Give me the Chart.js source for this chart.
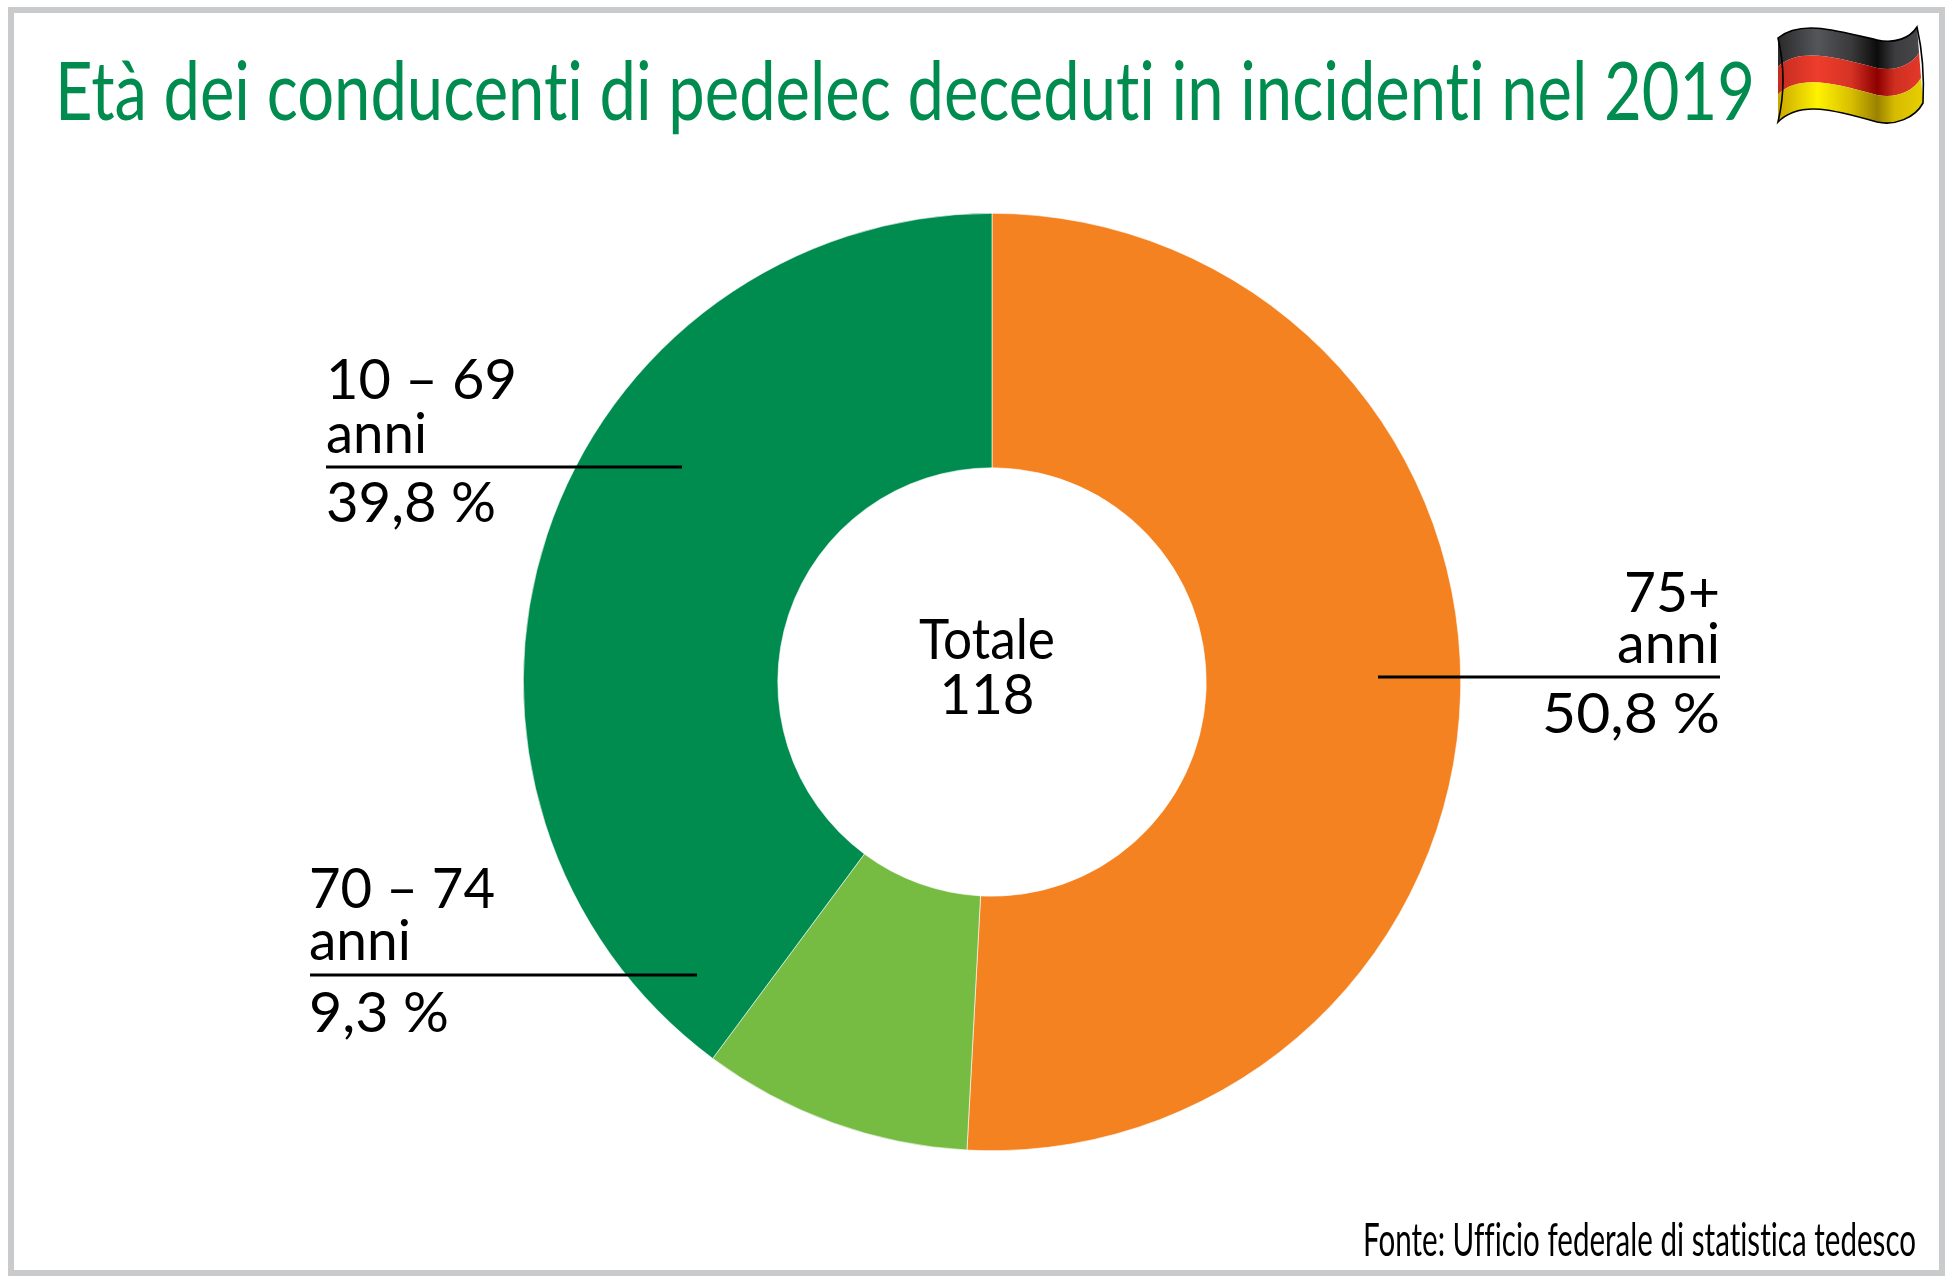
<!DOCTYPE html>
<html>
<head>
<meta charset="utf-8">
<title>Età dei conducenti di pedelec</title>
<script src="https://cdn.jsdelivr.net/npm/chart.js@4"></script>
<style>
html, body { margin: 0; padding: 0; background: #fff; }
canvas { display: block; }
</style>
</head>
<body>
<canvas id="ageChart" width="1955" height="1283"></canvas>
<script>
const categories = ['75+ anni', '70 – 74 anni', '10 – 69 anni'];
const shares = [50.8, 9.3, 39.8];
const sliceColors = ['#F58220', '#76BC43', '#008C4F'];
const titleText = 'Età dei conducenti di pedelec deceduti in incidenti nel 2019';
const sourceText = 'Fonte: Ufficio federale di statistica tedesco';

const labelFont = 'Lato';

// text is squeezed or stretched to the measured width of the original
function drawText(ctx, text, x, y, size, width, align, weight, color) {
    ctx.save();
    ctx.font = weight + ' ' + size + 'px ' + labelFont;
    ctx.letterSpacing = '0.01px'; // keeps Lato from joining "ti" and "ffi"
    ctx.fillStyle = color;
    ctx.textBaseline = 'alphabetic';
    ctx.textAlign = 'left';
    const sx = width / ctx.measureText(text).width;
    const left = align === 'right' ? x - width : align === 'center' ? x - width / 2 : x;
    ctx.translate(left, y);
    ctx.scale(sx, 1);
    ctx.fillText(text, 0, 0);
    ctx.restore();
}

function leader(ctx, x1, x2, y) {
    ctx.save();
    ctx.strokeStyle = '#000';
    ctx.lineWidth = 3;
    ctx.beginPath();
    ctx.moveTo(x1, y);
    ctx.lineTo(x2, y);
    ctx.stroke();
    ctx.restore();
}

function flagEdge(t) {
    // wave of the flag, t = 0 top edge, t = 1 bottom edge
    const l = (a, b) => a + (b - a) * t;
    return {
        start: [1778, l(38, 122)],
        c1: [1800, l(20, 100)],
        c2: [1835, l(30, 110)],
        mid: [1877, l(40, 122)],
        c3: [l(1895, 1895), l(44, 126)],
        c4: [l(1910, 1915), l(38, 118)],
        end: [l(1917, 1923), l(27, 103)]
    };
}

function drawFlag(ctx) {
    const bands = [
        [0, 0.34, ['#2a2a2a', '#55565a', '#3a3a3c', '#0c0c0c', '#3c3c3e', '#4a4a4c']],
        [0.34, 0.67, ['#c42c20', '#ee3d2c', '#d63324', '#8d0000', '#cf2f20', '#e53a2a']],
        [0.67, 1, ['#c9a800', '#fff200', '#d8bf00', '#9a8200', '#d6bb00', '#e8d000']]
    ];
    const trace = (e, backward) => {
        if (!backward) {
            ctx.bezierCurveTo(...e.c1, ...e.c2, ...e.mid);
            ctx.bezierCurveTo(...e.c3, ...e.c4, ...e.end);
        } else {
            ctx.bezierCurveTo(...e.c4, ...e.c3, ...e.mid);
            ctx.bezierCurveTo(...e.c2, ...e.c1, ...e.start);
        }
    };
    ctx.save();
    for (const [t0, t1, stops] of bands) {
        const a = flagEdge(t0), b = flagEdge(t1);
        const grad = ctx.createLinearGradient(1778, 0, 1924, 0);
        [0, 0.27, 0.5, 0.68, 0.8, 1].forEach((p, i) => grad.addColorStop(p, stops[i]));
        ctx.fillStyle = grad;
        ctx.beginPath();
        ctx.moveTo(...a.start);
        trace(a, false);
        ctx.lineTo(...b.end);
        trace(b, true);
        ctx.closePath();
        ctx.fill();
    }
    const top = flagEdge(0), bottom = flagEdge(1);
    ctx.strokeStyle = '#000';
    ctx.lineWidth = 1.6;
    ctx.beginPath();
    ctx.moveTo(...top.start);
    trace(top, false);
    ctx.quadraticCurveTo(1925, 62, ...bottom.end);
    trace(bottom, true);
    ctx.quadraticCurveTo(1788, 80, ...top.start);
    ctx.closePath();
    ctx.stroke();
    ctx.restore();
}

const backdrop = {
    id: 'backdrop',
    beforeDraw(chart) {
        const ctx = chart.ctx;
        ctx.save();
        ctx.fillStyle = '#fff';
        ctx.fillRect(0, 0, chart.width, chart.height);
        ctx.strokeStyle = '#c9cacc';
        ctx.lineWidth = 6;
        ctx.strokeRect(11, 10, 1931, 1263);
        ctx.restore();
    }
};

const annotations = {
    id: 'annotations',
    afterDraw(chart) {
        const ctx = chart.ctx;
        const green = '#008C4F';
        drawText(ctx, titleText, 55, 120, 82, 1700, 'left', 400, green);
        drawFlag(ctx);

        drawText(ctx, '10 – 69', 326, 399, 57, 191, 'left', 400, '#000');
        drawText(ctx, 'anni', 326, 453, 57, 101, 'left', 400, '#000');
        leader(ctx, 326, 682, 467);
        drawText(ctx, '39,8 %', 326, 522, 57, 170, 'left', 400, '#000');

        drawText(ctx, '70 – 74', 309, 908, 57, 186, 'left', 400, '#000');
        drawText(ctx, 'anni', 309, 960, 57, 102, 'left', 400, '#000');
        leader(ctx, 310, 697, 975);
        drawText(ctx, '9,3 %', 309, 1032, 57, 140, 'left', 400, '#000');

        drawText(ctx, '75+', 1720, 612, 57, 96, 'right', 400, '#000');
        drawText(ctx, 'anni', 1720, 663, 57, 103, 'right', 400, '#000');
        leader(ctx, 1378, 1720, 677);
        drawText(ctx, '50,8 %', 1720, 733, 57, 178, 'right', 400, '#000');

        drawText(ctx, 'Totale', 987, 659, 57, 136, 'center', 400, '#000');
        drawText(ctx, '118', 987, 714, 57, 95, 'center', 400, '#000');

        drawText(ctx, sourceText, 1363, 1256, 46, 553, 'left', 400, '#000');
    }
};

new Chart(document.getElementById('ageChart').getContext('2d'), {
    type: 'doughnut',
    data: {
        labels: categories,
        datasets: [{
            data: shares,
            backgroundColor: sliceColors,
            borderColor: '#ffffff',
            borderWidth: 0.6
        }]
    },
    options: {
        responsive: false,
        animation: false,
        cutout: '45.7%',
        layout: {
            padding: { left: 523, right: 494, top: 213, bottom: 132 }
        },
        plugins: {
            legend: { display: false },
            tooltip: { enabled: false }
        }
    },
    plugins: [backdrop, annotations]
});
</script>
</body>
</html>
